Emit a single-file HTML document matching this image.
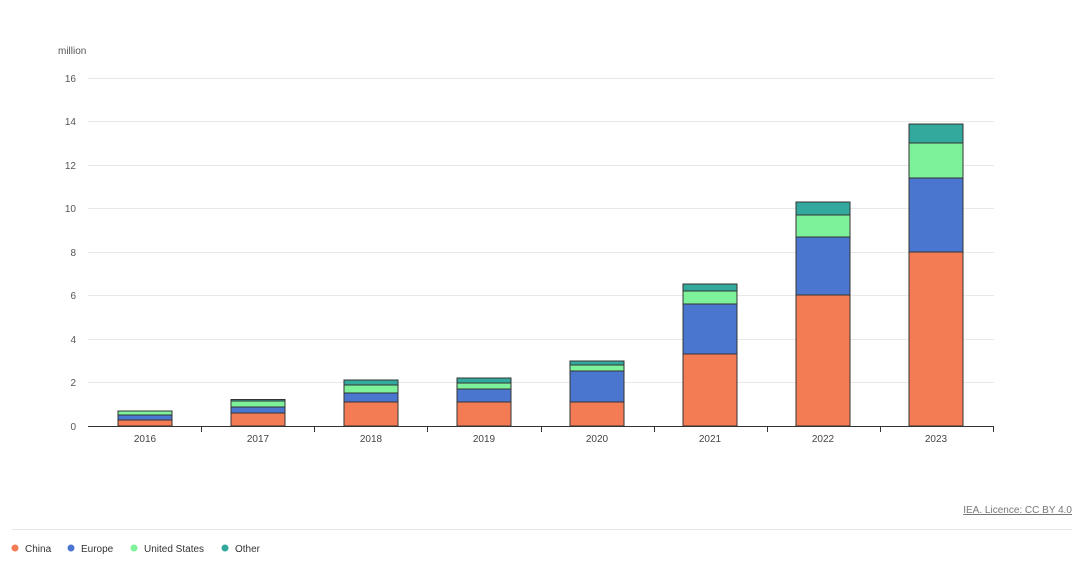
<!DOCTYPE html>
<html><head><style>
body{margin:0;background:#fff;font-family:"Liberation Sans",sans-serif;}
</style></head><body>
<svg width="1080" height="562" xmlns="http://www.w3.org/2000/svg" font-family="Liberation Sans, sans-serif">
<text x="58" y="54" font-size="10" fill="#555">million</text>
<g stroke="#e8e8e8" stroke-width="1">
<line x1="88" x2="994" y1="78.5" y2="78.5"/><line x1="88" x2="994" y1="121.5" y2="121.5"/>
<line x1="88" x2="994" y1="165.5" y2="165.5"/><line x1="88" x2="994" y1="208.5" y2="208.5"/>
<line x1="88" x2="994" y1="252.5" y2="252.5"/><line x1="88" x2="994" y1="295.5" y2="295.5"/>
<line x1="88" x2="994" y1="339.5" y2="339.5"/><line x1="88" x2="994" y1="382.5" y2="382.5"/>
</g>
<g font-size="10" fill="#555" text-anchor="end">
<text x="76" y="82">16</text><text x="76" y="125">14</text><text x="76" y="169">12</text>
<text x="76" y="212">10</text><text x="76" y="256">8</text><text x="76" y="299">6</text>
<text x="76" y="343">4</text><text x="76" y="386">2</text><text x="76" y="430">0</text>
</g>
<g stroke="#333" stroke-width="1">
<!-- 2016 -->
<rect x="118" y="420" width="54" height="6" fill="#f47c55"/>
<rect x="118" y="415" width="54" height="5" fill="#4a76cf"/>
<rect x="118" y="411" width="54" height="4" fill="#7ef29a"/>
<!-- 2017 -->
<rect x="231" y="413" width="54" height="13" fill="#f47c55"/>
<rect x="231" y="407" width="54" height="6" fill="#4a76cf"/>
<rect x="231" y="401" width="54" height="6" fill="#7ef29a"/>
<rect x="231" y="399.5" width="54" height="1.5" fill="#33a89c"/>
<!-- 2018 -->
<rect x="344" y="402" width="54" height="24" fill="#f47c55"/>
<rect x="344" y="393" width="54" height="9" fill="#4a76cf"/>
<rect x="344" y="385" width="54" height="8" fill="#7ef29a"/>
<rect x="344" y="380" width="54" height="5" fill="#33a89c"/>
<!-- 2019 -->
<rect x="457" y="402" width="54" height="24" fill="#f47c55"/>
<rect x="457" y="389" width="54" height="13" fill="#4a76cf"/>
<rect x="457" y="383" width="54" height="6" fill="#7ef29a"/>
<rect x="457" y="378" width="54" height="5" fill="#33a89c"/>
<!-- 2020 -->
<rect x="570" y="402" width="54" height="24" fill="#f47c55"/>
<rect x="570" y="371" width="54" height="31" fill="#4a76cf"/>
<rect x="570" y="365" width="54" height="6" fill="#7ef29a"/>
<rect x="570" y="361" width="54" height="4" fill="#33a89c"/>
<!-- 2021 -->
<rect x="683" y="354" width="54" height="72" fill="#f47c55"/>
<rect x="683" y="304" width="54" height="50" fill="#4a76cf"/>
<rect x="683" y="291" width="54" height="13" fill="#7ef29a"/>
<rect x="683" y="284" width="54" height="7" fill="#33a89c"/>
<!-- 2022 -->
<rect x="796" y="295" width="54" height="131" fill="#f47c55"/>
<rect x="796" y="237" width="54" height="58" fill="#4a76cf"/>
<rect x="796" y="215" width="54" height="22" fill="#7ef29a"/>
<rect x="796" y="202" width="54" height="13" fill="#33a89c"/>
<!-- 2023 -->
<rect x="909" y="252" width="54" height="174" fill="#f47c55"/>
<rect x="909" y="178" width="54" height="74" fill="#4a76cf"/>
<rect x="909" y="143" width="54" height="35" fill="#7ef29a"/>
<rect x="909" y="124" width="54" height="19" fill="#33a89c"/>
</g>
<g stroke="#333" stroke-width="1">
<line x1="88" x2="994" y1="426.5" y2="426.5"/>
<line x1="201.5" x2="201.5" y1="426" y2="432"/><line x1="314.5" x2="314.5" y1="426" y2="432"/>
<line x1="427.5" x2="427.5" y1="426" y2="432"/><line x1="541.5" x2="541.5" y1="426" y2="432"/>
<line x1="654.5" x2="654.5" y1="426" y2="432"/><line x1="767.5" x2="767.5" y1="426" y2="432"/>
<line x1="880.5" x2="880.5" y1="426" y2="432"/><line x1="993.5" x2="993.5" y1="426" y2="432"/>
</g>
<g font-size="10" fill="#444" text-anchor="middle">
<text x="145" y="442">2016</text><text x="258" y="442">2017</text><text x="371" y="442">2018</text>
<text x="484" y="442">2019</text><text x="597" y="442">2020</text><text x="710" y="442">2021</text>
<text x="823" y="442">2022</text><text x="936" y="442">2023</text>
</g>
<text x="1072" y="513" font-size="10" fill="#777" text-anchor="end" text-decoration="underline">IEA. Licence: CC BY 4.0</text>
<line x1="12" x2="1072" y1="529.5" y2="529.5" stroke="#e6e6e6"/>
<g font-size="10" fill="#333">
<circle cx="15" cy="548" r="3.5" fill="#f47c55"/><text x="25" y="552">China</text>
<circle cx="71" cy="548" r="3.5" fill="#4a76cf"/><text x="81" y="552">Europe</text>
<circle cx="134" cy="548" r="3.5" fill="#7ef29a"/><text x="144" y="552">United States</text>
<circle cx="225" cy="548" r="3.5" fill="#33a89c"/><text x="235" y="552">Other</text>
</g>
</svg>
</body></html>
